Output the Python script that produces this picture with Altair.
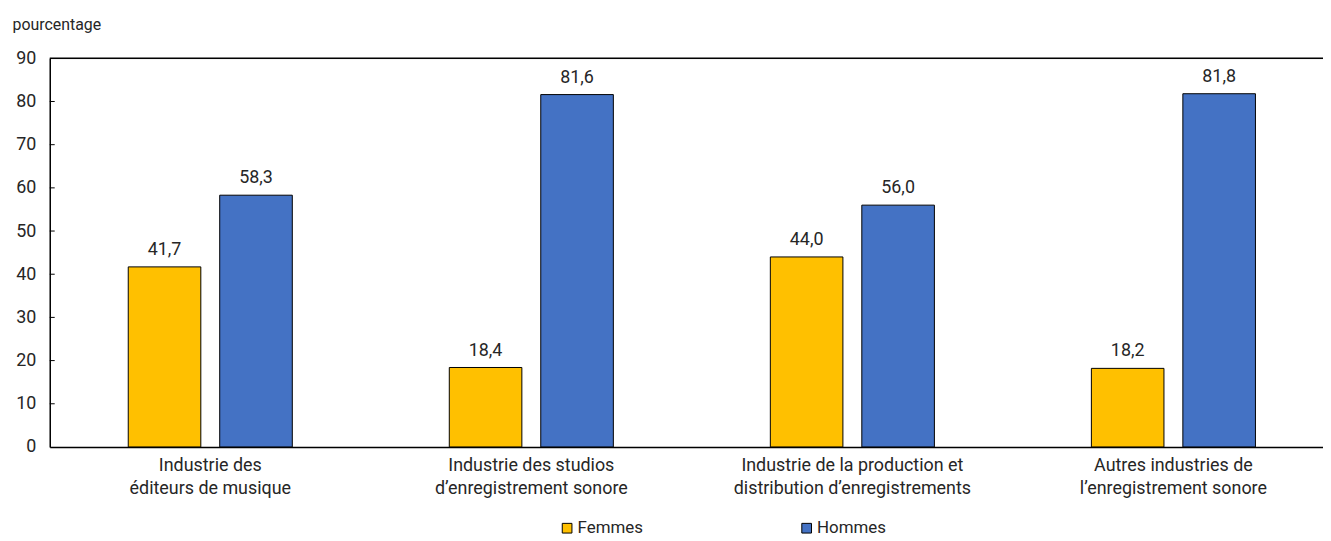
import altair as alt
import pandas as pd

categories = [
    "Industrie des\néditeurs de musique",
    "Industrie des studios\nd’enregistrement sonore",
    "Industrie de la production et\ndistribution d’enregistrements",
    "Autres industries de\nl’enregistrement sonore",
]
series = ["Femmes", "Hommes"]
femmes = [41.7, 18.4, 44.0, 18.2]
hommes = [58.3, 81.6, 56.0, 81.8]
y_ticks = [10, 20, 30, 40, 50, 60, 70, 80]
colors = ["#FFC000", "#4472C4"]

FONT = "Roboto, sans-serif"
TXT = "#262626"

rows = []
for c, f, h in zip(categories, femmes, hommes):
    rows.append({"cat": c, "series": "Femmes", "value": f, "label": f"{f:.1f}".replace(".", ",")})
    rows.append({"cat": c, "series": "Hommes", "value": h, "label": f"{h:.1f}".replace(".", ",")})
df = pd.DataFrame(rows)

xscale = alt.Scale(domain=categories, range=[0, 1292], paddingInner=0, paddingOuter=0)
yscale = alt.Scale(domain=[0, 90], nice=False)
xoff = alt.XOffset("series:N", sort=series,
                   scale=alt.Scale(paddingInner=0.2065, paddingOuter=0.858))

base = alt.Chart(df)

bars = base.mark_bar(stroke="black", strokeWidth=1).encode(
    x=alt.X("cat:N", sort=categories, scale=xscale,
            axis=alt.Axis(title=None, labelAngle=0, ticks=False, domainColor="black",
                          domainWidth=1.5, labelFont=FONT, labelFontSize=18,
                          labelColor=TXT, labelPadding=10, labelBaseline="top",
                          labelLineHeight=23, labelLimit=400,
                          labelExpr="split(datum.label, '\\n')")),
    xOffset=xoff,
    y=alt.Y("value:Q", scale=yscale,
            axis=alt.Axis(values=list(range(0, 100, 10)), grid=False, ticks=False,
                          domainColor="black", domainWidth=1.5, labelFont=FONT,
                          labelFontSize=18, labelColor=TXT, labelPadding=14,
                          title="pourcentage", titleAngle=0, titleAlign="left",
                          titleBaseline="alphabetic", titleX=-38, titleY=-29,
                          titleFont=FONT, titleFontSize=16, titleFontWeight="normal",
                          titleColor=TXT)),
    color=alt.Color("series:N", sort=series,
                    scale=alt.Scale(domain=series, range=colors),
                    legend=alt.Legend(title=None, orient="none", direction="horizontal",
                                      legendX=512, legendY=464, symbolType="square",
                                      symbolSize=95, symbolStrokeColor="black",
                                      symbolStrokeWidth=1, labelFont=FONT,
                                      labelFontSize=17, labelColor=TXT, labelOffset=2,
                                      columnPadding=156, symbolOpacity=1)),
)

labels = base.mark_text(font=FONT, fontSize=18, color=TXT, baseline="alphabetic",
                        dy=-12).encode(
    x=alt.X("cat:N", sort=categories, scale=xscale),
    xOffset=xoff,
    y=alt.Y("value:Q", scale=yscale),
    text="label:N",
)

top_line = alt.Chart(pd.DataFrame({"v": [90]})).mark_rule(color="black", strokeWidth=1.5).encode(
    y=alt.Y("v:Q", scale=yscale)
)

ticks = alt.Chart(pd.DataFrame({"t": y_ticks})).mark_rule(color="black", strokeWidth=1).encode(
    x=alt.value(0), x2=alt.value(5), y=alt.Y("t:Q", scale=yscale)
)

chart = alt.layer(bars, labels, top_line, ticks).properties(
    width=1281, height=391,
    autosize=alt.AutoSizeParams(type="none"),
    padding={"left": 42, "top": 49, "right": 0, "bottom": 93},
).configure_view(stroke=None).configure(background="white")

chart.save("out.html", embed_options={"renderer": "svg", "actions": False})
